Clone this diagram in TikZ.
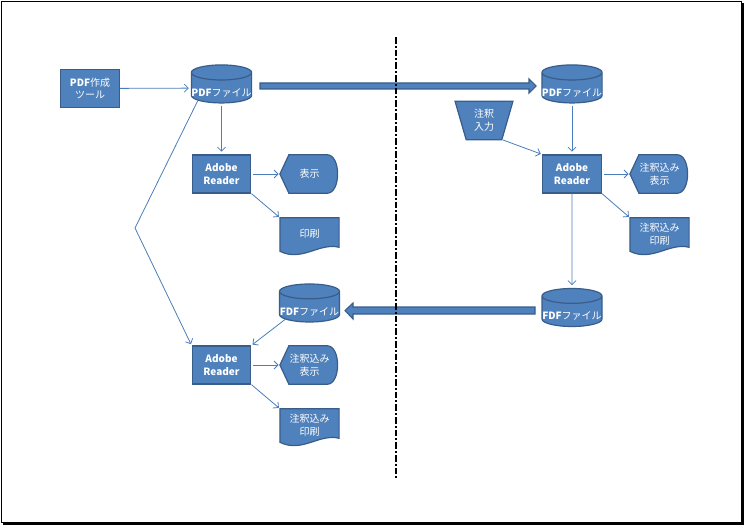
\documentclass[tikz,border=0pt]{standalone}
\usepackage{fontspec}
\setmainfont{Noto Sans CJK JP}
\usetikzlibrary{shapes,arrows.meta,positioning,calc,backgrounds}
\definecolor{boxblue}{RGB}{79,129,189}
\definecolor{rimblue}{RGB}{56,93,138}
\definecolor{linkblue}{RGB}{74,126,187}
\newcommand\cyltext[1]{\raisebox{-3.5pt}[\height][\depth]{#1}}

\tikzset{
  shapeline/.style={draw=rimblue, fill=boxblue, line width=0.9pt},
  txt/.style={text=white, align=center, font=\fontsize{7.5pt}{9.5pt}\selectfont, inner sep=0pt},
  proc/.style={shapeline, txt, rectangle, minimum width=44pt, minimum height=28.5pt},
  dbase/.style={shapeline, txt, cylinder, shape border rotate=90, aspect=0.25, minimum width=45pt, minimum height=28.5pt},
  manual/.style={shapeline, txt, trapezium, shape border rotate=180, trapezium stretches=true, trapezium left angle=74, trapezium right angle=74, minimum width=43.5pt, minimum height=29pt},
  dispbox/.style={txt, minimum width=44pt, minimum height=28.5pt},
  docbox/.style={txt, minimum width=44pt, minimum height=24pt},
  conn/.style={draw=linkblue, line width=0.6pt, -{Straight Barb[length=3pt,width=6pt]}, shorten >=1pt},
  bigarrow/.style={shapeline, line width=0.8pt}
}

\begin{document}
\begin{tikzpicture}[x=0.75pt,y=-0.75pt]
  \useasboundingbox (0,0) rectangle (745,527);
  \draw[line width=0.75pt] (1.5,1.5) rectangle (741,522);
  \draw[line width=2.25pt] (742.5,3) -- (742.5,523.5) -- (3,523.5);

  \node[proc] (tool) at (90,88.5) {\textbf{PDF}作成\\ツール};
  \node[dbase] (pdfL) at (221.5,88) {\cyltext{\textbf{PDF}ファイル}};
  \node[dbase] (pdfR) at (572,88) {\cyltext{\textbf{PDF}ファイル}};
  \node[manual] (annot) at (484,120.5) {注釈\\入力};
  \node[proc] (readerL) at (221.5,174) {\textbf{Adobe}\\\textbf{Reader}};
  \node[dispbox] (showL) at (309.5,174) {表示};
  \node[docbox] (printL) at (309.5,234) {印刷};
  \node[proc] (readerR) at (572,174) {\textbf{Adobe}\\\textbf{Reader}};
  \node[dispbox] (showR) at (659.5,174) {注釈込み\\表示};
  \node[docbox] (printR) at (659.5,234) {注釈込み\\印刷};
  \node[dbase] (fdfR) at (572,311.5) {\cyltext{\textbf{FDF}ファイル}};
  \node[dbase] (fdfL) at (309.5,307) {\cyltext{\textbf{FDF}ファイル}};
  \node[proc] (readerB) at (221.5,365) {\textbf{Adobe}\\\textbf{Reader}};
  \node[dispbox] (showB) at (309.5,365) {注釈込み\\表示};
  \node[docbox] (printB) at (309.5,425) {注釈込み\\印刷};

  \begin{scope}[on background layer]
    \foreach \n in {showL,showR,showB}
      \draw[shapeline] (\n.west) -- ($(\n.north west)+(9,0)$) -- ($(\n.north east)+(-12,0)$)
        .. controls ($(\n.north east)+(2,0)$) and ($(\n.south east)+(2,0)$) .. ($(\n.south east)+(-12,0)$)
        -- ($(\n.south west)+(9,0)$) -- cycle;
    \foreach \n in {printL,printR,printB}
      \draw[shapeline] (\n.north west) -- (\n.north east) -- ($(\n.south east)+(0,-3)$)
        .. controls ($(\n.south east)+(-20,-8)$) and ($(\n.south west)+(22,12)$) .. ($(\n.south west)+(0,1)$)
        -- cycle;
  \end{scope}

  \draw[bigarrow] ($(pdfL)+(38.5,-5)$) -- ($(pdfR)+(-43,-5)$) -- ($(pdfR)+(-43,-9)$)
    -- ($(pdfR)+(-36,-2)$) -- ($(pdfR)+(-43,5)$) -- ($(pdfR)+(-43,1)$) -- ($(pdfL)+(38.5,1)$) -- cycle;
  \draw[bigarrow] ($(fdfR)+(-37,-4.5)$) -- ($(fdfL |- fdfR)+(43.5,-4.5)$) -- ($(fdfL |- fdfR)+(43.5,-8.5)$)
    -- ($(fdfL |- fdfR)+(35.5,-1)$) -- ($(fdfL |- fdfR)+(43.5,7.5)$) -- ($(fdfL |- fdfR)+(43.5,2.5)$)
    -- ($(fdfR)+(-37,2.5)$) -- cycle;

  \coordinate (bend) at (135,228);
  \draw[conn, shorten >=1.5pt] (tool) -- (pdfL);
  \draw[conn, shorten <=2pt, shorten >=2pt] (pdfL) -- (readerL);
  \draw[conn, shorten <=1.5pt] (readerL) -- (showL);
  \draw[conn] (readerL.south east) -- (printL.north west);
  \draw[conn] (pdfL.208) -- (bend) -- (readerB.north west);
  \draw[conn] ($(annot)+(19,19.5)$) -- (readerR.north west);
  \draw[conn, shorten <=2pt, shorten >=2pt] (pdfR) -- (readerR);
  \draw[conn, shorten <=1.5pt] (readerR) -- (showR);
  \draw[conn] (readerR.south east) -- (printR.north west);
  \draw[conn, shorten >=2pt] (readerR) -- (fdfR);
  \draw[conn] (fdfL.207) -- (readerB.north east);
  \draw[conn, shorten <=1.5pt] (readerB) -- (showB);
  \draw[conn] (readerB.south east) -- (printB.north west);

  \coordinate (dtop) at (396,37);
  \coordinate (dbot) at (396,480);
  \draw[line width=1.5pt, dash pattern=on 5pt off 1.5pt on 1.5pt off 1.5pt] (dtop) -- (dbot);
\end{tikzpicture}
\end{document}
